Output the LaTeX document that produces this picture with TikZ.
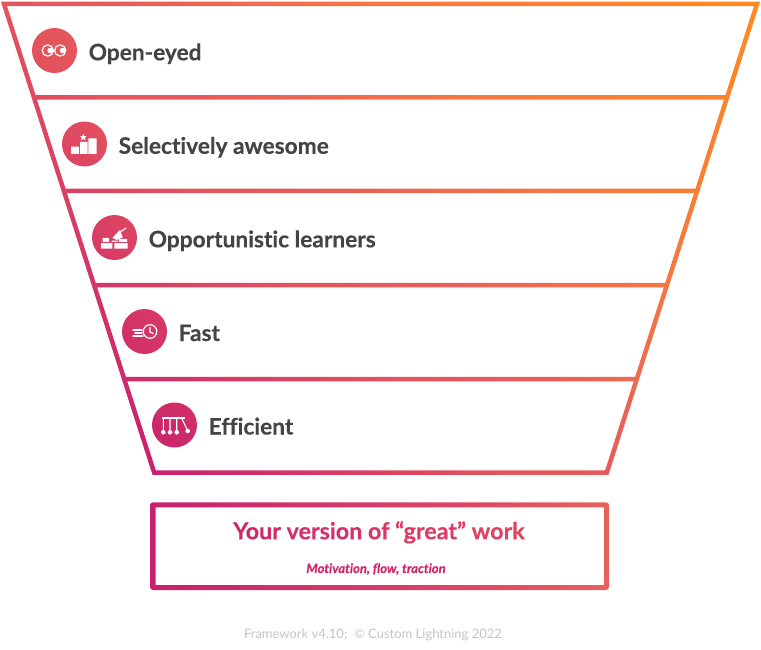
\documentclass[tikz,border=0pt]{standalone}
\usepackage{fontspec}
\setmainfont{Lato}[Ligatures=NoCommon,BoldFeatures={FakeBold=0.35},BoldItalicFeatures={FakeBold=0.35}]
\usetikzlibrary{calc}
\definecolor{gA}{HTML}{C91F6E}
\definecolor{gB}{HTML}{E4555C}
\definecolor{gB2}{HTML}{E75A5A}
\definecolor{gC}{HTML}{EE6B50}
\definecolor{gC2}{HTML}{F57840}
\definecolor{gD}{HTML}{FF8A1E}
\definecolor{bM}{HTML}{DD4565}
\definecolor{bR}{HTML}{E9605C}
\definecolor{ink}{HTML}{444444}
\definecolor{foot}{HTML}{C4C4C4}
\pgfdeclarehorizontalshading{funnelshade}{1000bp}{color(0bp)=(gA); color(50bp)=(gA); color(290bp)=(gB); color(359bp)=(gB2); color(452bp)=(gC); color(546bp)=(gC2); color(803bp)=(gD); color(900bp)=(gD)}
\pgfdeclarehorizontalshading{boxshade}{200bp}{color(0bp)=(gA); color(20bp)=(gA); color(330bp)=(bM); color(475bp)=(bR); color(500bp)=(bR)}
\newcommand{\bandpath}[2]{({5.07+.3205*#1},#1) -- ({755.93-.3205*#1},#1) -- ({755.93-.3205*#2},#2) -- ({5.07+.3205*#2},#2) -- cycle}
\tikzset{
  rowlabel/.style={anchor=base west,inner sep=0pt,text=ink,font=\fontsize{22.7}{26}\selectfont\bfseries},
  iconline/.style={draw=white,line width=1.2pt,line cap=round},
  iconfill/.style={fill=white}
}
\begin{document}
\begin{tikzpicture}[x=1pt,y=-1pt]
\useasboundingbox (0,0) rectangle (761,650);
% funnel frame and icon discs share one gradient
\begin{scope}[even odd rule]
\clip
  (.93,1.75) -- (760.07,1.75) -- (608.5,474.75) -- (152.5,474.75) -- cycle
  \bandpath{6.25}{95.25} \bandpath{99.75}{188.75} \bandpath{193.25}{282.75}
  \bandpath{287.25}{376.75} \bandpath{381.25}{470.25}
  (54.5,50.5) circle[radius=22.5]
  (84.5,144) circle[radius=22.5]
  (114.5,237.5) circle[radius=22.5]
  (144.5,331.5) circle[radius=22.5]
  (174.5,425) circle[radius=22.5];
\node[inner sep=0pt,rotate=47] (funnelgrad) at (427.8,178.5) {\pgfuseshading{funnelshade}};
\end{scope}
% result box
\begin{scope}[even odd rule]
\clip
  [rounded corners=3pt] (150,502.3) rectangle (609,590)
  [sharp corners] (155.5,507.3) rectangle (604,585);
\node[inner sep=0pt] (boxgrad) at (382,546) {\pgfuseshading{boxshade}};
\end{scope}
% labels
\node[rowlabel] (l1) at (88.5,60.3) {Open-eyed};
\node[rowlabel] (l2) at (118.5,153.8) {Selectively awesome};
\node[rowlabel] (l3) at (148.5,247.3) {Opportunistic learners};
\node[rowlabel] (l4) at (178.5,341) {Fast};
\node[rowlabel] (l5) at (208.5,434.5) {Efficient};
\node[anchor=base,inner sep=0pt,font=\fontsize{23.3}{26}\selectfont\bfseries] (t1) at (379,539.3)
 {\textcolor[HTML]{CE2A6B}{Your} \textcolor[HTML]{D2316A}{version} \textcolor[HTML]{D73867}{of} \textcolor[HTML]{DA3E65}{“great”} \textcolor[HTML]{DF4562}{work}};
\node[anchor=base,inner sep=0pt,text=gA!85!gB,font=\fontsize{13}{15}\selectfont\bfseries\itshape] (t2) at (376,573) {Motivation, flow, traction};
\node[anchor=base,inner sep=0pt,text=foot,font=\fontsize{13}{15}\selectfont] (t3) at (373,638) {Framework v4.10;\ \ © Custom Lightning 2022};
% icon 1: eyes
\draw[iconline] (47.8,50.5) circle[radius=5.6] (60.2,50.5) circle[radius=5.6];
\fill[iconfill] (50.2,50.5) circle[radius=2.8] (62.6,50.5) circle[radius=2.8];
% icon 2: podium
\fill[iconfill] (71,146.7) rectangle (79,154) (80,142) rectangle (87.7,154) (88.3,138.3) rectangle (96.7,154);
\fill[iconfill] (83.3,133.8) -- (84.2,136.2) -- (86.7,136.3) -- (84.8,137.9) -- (85.4,140.3) -- (83.3,139) -- (81.2,140.3) -- (81.8,137.9) -- (79.9,136.3) -- (82.4,136.2) -- cycle;
% icon 3: trowel on bricks
\fill[iconfill] (101,243) rectangle (112.3,248.7) (114.3,243) rectangle (127.7,248.7)
  (102.5,237.8) rectangle (109,241.8) (111.5,240.5) rectangle (118,241.8) (119,239) rectangle (127,241.8);
\fill[iconfill] (112.3,238) -- (120,229.8) -- (122.7,237.5) -- (117,240) -- cycle;
\draw[iconline] (121,231.5) -- (126,228);
% icon 4: clock with speed lines
\draw[iconline] (150,331.5) circle[radius=6.8];
\draw[iconline] (150,327.5) -- (150,332) -- (153.3,333.5);
\draw[iconline] (133,330) -- (142,330) (135,333) -- (142,333) (133,336) -- (143,336);
% icon 5: cradle
\fill[iconfill] (161.5,416.5) rectangle (184.5,419);
\draw[draw=white,line width=1.1pt] (163.3,418) -- (163.3,432) (170,418) -- (170,432) (176.7,418) -- (176.7,432) (181.7,418) -- (187.7,431);
\fill[iconfill] (163.3,432.3) circle[radius=2.3] (170,432.3) circle[radius=2.3] (176.7,432.3) circle[radius=2.3] (187.7,431) circle[radius=2.3];
\end{tikzpicture}
\end{document}
